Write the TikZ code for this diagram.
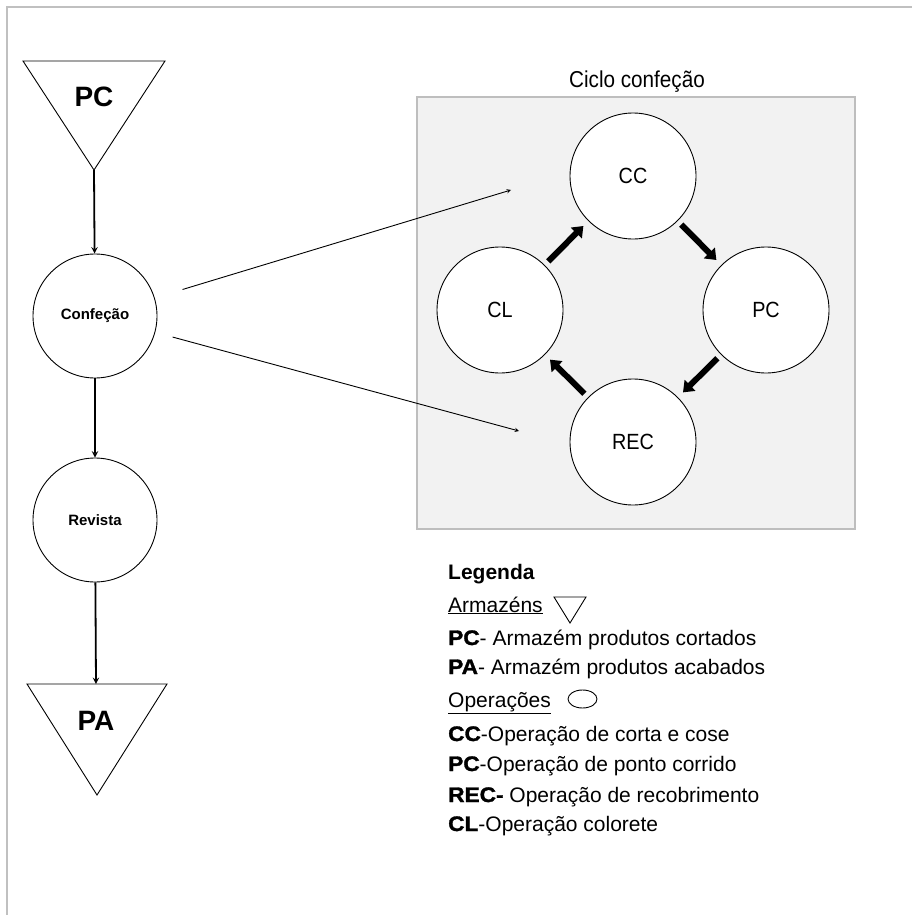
\documentclass[tikz,border=0pt]{standalone}
\usepackage{fontspec}
\setmainfont{Liberation Sans}
\newfontfamily\narrowfont[FakeStretch=0.9]{Liberation Sans}
\newfontfamily\blackfont[FakeStretch=1.08,FakeBold=1.5]{Liberation Sans}
\usetikzlibrary{shapes.geometric,arrows.meta,calc}
\definecolor{framegray}{RGB}{192,192,192}
\definecolor{boxfill}{RGB}{242,242,242}
\definecolor{boxline}{RGB}{190,190,190}
\newcommand{\legkey}[1]{{\blackfont\bfseries #1}}
\tikzstyle{pageframe}=[
  draw=framegray, line width=1.5pt
]
\tikzstyle{store}=[
  draw, line width=0.9pt, line join=miter
]
\tikzstyle{storelabel}=[
  inner sep=0pt, font=\bfseries\fontsize{28}{30}\selectfont
]
\tikzstyle{flownode}=[
  draw, circle, inner sep=0pt, fill=white, line width=0.9pt, minimum size=124pt,
  font=\bfseries\fontsize{15}{17}\selectfont
]
\tikzstyle{flowedge}=[
  ->, >=stealth, line width=1.8pt
]
\tikzstyle{cyclebox}=[
  draw=boxline, fill=boxfill, line width=1.2pt
]
\tikzstyle{cyclelabel}=[
  inner sep=0pt, font=\narrowfont\fontsize{23}{26}\selectfont
]
\tikzstyle{cyclenode}=[
  draw, circle, inner sep=0pt, fill=white, line width=0.9pt, minimum size=126pt,
  font=\narrowfont\fontsize{22}{26}\selectfont
]
\tikzstyle{cycleedge}=[
  line width=6pt, -{Triangle[length=10pt,width=15pt]}, shorten <=5pt, shorten >=7pt
]
\tikzstyle{zoomedge}=[
  ->, >=stealth, line width=0.9pt
]
\tikzstyle{legendtext}=[
  anchor=base west, inner sep=0pt, font=\fontsize{21}{24}\selectfont
]
\tikzstyle{legendsym}=[
  draw, line width=0.9pt
]

\begin{document}
\begin{tikzpicture}[x=1pt,y=-1pt]
  \useasboundingbox (0,0) rectangle (912,915);
  \draw [pageframe] (7,915) -- (7,7) -- (912,7);

  % process flow
  \coordinate (pctip) at (94,170);
  \draw [store] (pctip) -- (23,61) -- (165,61) -- cycle;
  \node (pc) at (94,97) [storelabel] {PC};
  \node (conf) at (95,316) [flownode] {Confeção};
  \node (rev) at (95,520) [flownode] {Revista};
  \coordinate (patop) at (96,684);
  \draw [store] (27,684) -- (167,684) -- (97,795) -- cycle;
  \node (pa) at (96,721) [storelabel] {PA};
  \draw [flowedge] (pctip) -- (conf);
  \draw [flowedge] (conf) -- (rev);
  \draw [flowedge] (rev) -- (patop);

  % cycle
  \node (ciclo) at (637,82) [cyclelabel] {Ciclo confeção};
  \draw [cyclebox] (417,97) rectangle (855,529);
  \node (cc) at (633,176) [cyclenode] {CC};
  \node (pcop) at (766,310) [cyclenode] {PC};
  \node (rec) at (633,442) [cyclenode] {REC};
  \node (cl) at (500,310) [cyclenode] {CL};
  \draw [cycleedge] (cl) -- (cc);
  \draw [cycleedge] (cc) -- (pcop);
  \draw [cycleedge] (pcop) -- (rec);
  \draw [cycleedge] (rec) -- (cl);

  \coordinate (ccin) at (511,190);
  \coordinate (recin) at (519,431);
  \draw [zoomedge, shorten <=29pt] (conf) -- (ccin);
  \draw [zoomedge, shorten <=18pt] (conf) -- (recin);

  % legend
  \node (leg) at (448,579) [legendtext] {\bfseries Legenda};
  \node (arm) at (448,612) [legendtext] {\underline{Armazéns}};
  \draw [legendsym] (554,597) -- (586,597) -- (570,623) -- cycle;
  \node (legpc) at (448,645) [legendtext] {\legkey{PC}- Armazém produtos cortados};
  \node (legpa) at (448,674) [legendtext] {\legkey{PA}- Armazém produtos acabados};
  \node (oper) at (448,707) [legendtext] {\underline{Operações}};
  \draw [legendsym] (582.5,699) ellipse [x radius=14.5, y radius=9];
  \node (legcc) at (448,741) [legendtext] {\legkey{CC}-Operação de corta e cose};
  \node (legpcop) at (448,771) [legendtext] {\legkey{PC}-Operação de ponto corrido};
  \node (legrec) at (448,802) [legendtext] {\legkey{REC-} Operação de recobrimento};
  \node (legcl) at (448,831) [legendtext] {\legkey{CL}-Operação colorete};
\end{tikzpicture}
\end{document}
